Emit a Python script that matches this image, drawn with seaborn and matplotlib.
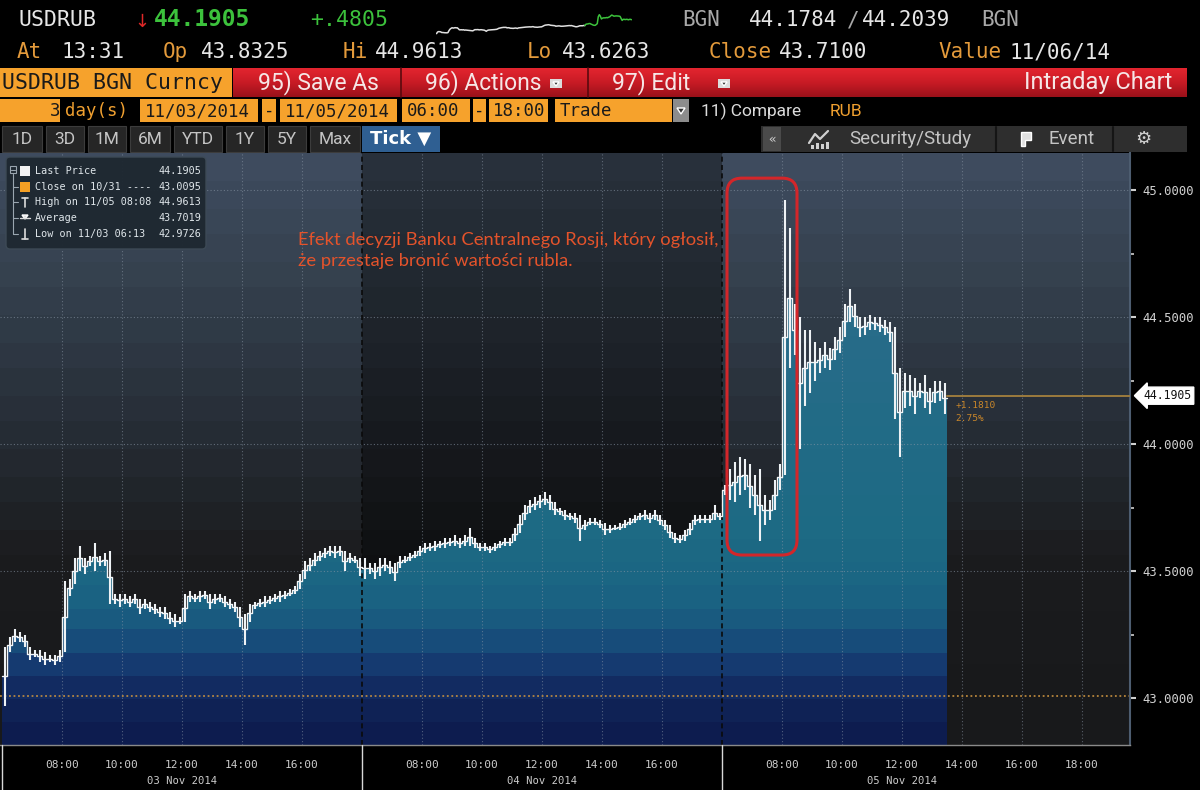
import numpy as np
import pandas as pd
import matplotlib
matplotlib.use("Agg")
import matplotlib.pyplot as plt
import matplotlib.transforms as mtransforms
from matplotlib.patches import Rectangle, FancyBboxPatch, Polygon
from matplotlib.colors import LinearSegmentedColormap
import seaborn as sns

# ---------------------------------------------------------------- data
days = ["03 Nov 2014", "04 Nov 2014", "05 Nov 2014"]
bar_minutes = 10          # one tick bar = 10 minutes
session_open = 6          # 06:00
session_len = 12          # 06:00 - 18:00

day1_low = [42.97, 43.18, 43.22, 43.22, 43.20, 43.15, 43.16, 43.14, 43.13, 43.14, 43.13, 43.14,
            43.18, 43.40, 43.45, 43.50, 43.49, 43.52, 43.50, 43.52, 43.52, 43.37, 43.37, 43.36,
            43.37, 43.36, 43.37, 43.33, 43.35, 43.34, 43.33, 43.32, 43.31, 43.29, 43.28, 43.29,
            43.30, 43.38, 43.38, 43.38, 43.39, 43.35, 43.37, 43.38, 43.36, 43.35, 43.34, 43.28,
            43.21, 43.30, 43.35, 43.36, 43.36, 43.37, 43.38, 43.38, 43.39, 43.40, 43.41, 43.43,
            43.47, 43.50, 43.52, 43.54, 43.55, 43.56, 43.55, 43.56, 43.50, 43.53, 43.53, 43.48]
day1_high = [43.20, 43.24, 43.27, 43.26, 43.25, 43.20, 43.19, 43.19, 43.18, 43.17, 43.17, 43.19,
             43.46, 43.47, 43.55, 43.60, 43.55, 43.56, 43.61, 43.56, 43.57, 43.58, 43.41, 43.41,
             43.41, 43.40, 43.41, 43.39, 43.39, 43.38, 43.37, 43.36, 43.36, 43.34, 43.33, 43.32,
             43.41, 43.42, 43.41, 43.42, 43.42, 43.41, 43.41, 43.41, 43.40, 43.39, 43.38, 43.36,
             43.33, 43.37, 43.38, 43.39, 43.40, 43.40, 43.41, 43.42, 43.42, 43.43, 43.44, 43.49,
             43.54, 43.55, 43.57, 43.58, 43.59, 43.60, 43.60, 43.60, 43.58, 43.57, 43.56, 43.55]

day2_low = [43.47, 43.49, 43.47, 43.48, 43.50, 43.49, 43.46, 43.51,
            43.53, 43.54, 43.55, 43.56, 43.57, 43.58, 43.58, 43.59, 43.59, 43.60, 43.60, 43.59,
            43.60, 43.60, 43.59, 43.58, 43.58, 43.57, 43.58, 43.59, 43.60, 43.60, 43.62, 43.65,
            43.70, 43.73, 43.74, 43.75, 43.76, 43.74, 43.72, 43.72, 43.70, 43.70, 43.69, 43.62,
            43.66, 43.68, 43.68, 43.67, 43.64, 43.65, 43.66, 43.66, 43.67, 43.68, 43.69, 43.70,
            43.70, 43.69, 43.70, 43.68, 43.66, 43.63, 43.61, 43.61, 43.62, 43.64, 43.68, 43.69,
            43.69, 43.69, 43.70, 43.70]
day2_high = [43.55, 43.53, 43.53, 43.55, 43.55, 43.54, 43.53, 43.56,
             43.56, 43.57, 43.58, 43.60, 43.61, 43.61, 43.62, 43.62, 43.63, 43.63, 43.64, 43.63,
             43.64, 43.67, 43.63, 43.61, 43.61, 43.60, 43.61, 43.62, 43.63, 43.63, 43.67, 43.72,
             43.76, 43.78, 43.79, 43.80, 43.81, 43.80, 43.77, 43.75, 43.74, 43.73, 43.73, 43.72,
             43.70, 43.71, 43.71, 43.70, 43.69, 43.68, 43.68, 43.69, 43.70, 43.71, 43.72, 43.73,
             43.74, 43.73, 43.74, 43.72, 43.70, 43.68, 43.65, 43.64, 43.66, 43.69, 43.72, 43.72,
             43.72, 43.72, 43.76, 43.73]

day3_low = [43.80, 43.78, 43.77, 43.80, 43.82, 43.75, 43.72, 43.62, 43.68, 43.70, 43.74, 43.82,
            43.88, 44.30, 44.35, 43.98, 44.15, 44.20, 44.25, 44.28, 44.30, 44.29, 44.33, 44.36,
            44.42, 44.48, 44.46, 44.42, 44.43, 44.45, 44.45, 44.44, 44.43, 44.40, 44.10, 43.95,
            44.14, 44.15, 44.12, 44.18, 44.14, 44.12, 44.16, 44.17, 44.12]
day3_high = [43.84, 43.90, 43.93, 43.95, 43.94, 43.92, 43.88, 43.90, 43.80, 43.78, 43.86, 43.92,
             44.96, 44.85, 44.55, 44.50, 44.45, 44.45, 44.40, 44.38, 44.40, 44.38, 44.42, 44.46,
             44.55, 44.61, 44.55, 44.50, 44.50, 44.51, 44.50, 44.50, 44.49, 44.48, 44.46, 44.30,
             44.28, 44.27, 44.26, 44.24, 44.27, 44.22, 44.25, 44.25, 44.24]

last_price = 44.1905
prev_close = 43.0095
y_ticks = [43.0, 43.5, 44.0, 44.5, 45.0]
hour_ticks = [8, 10, 12, 14, 16]
legend_labels = ["Last Price", "Close on 10/31 ----", "High on 11/05 08:08", "Average", "Low on 11/03 06:13"]
legend_values = ["44.1905", "43.0095", "44.9613", "43.7019", "42.9726"]
note = "Efekt decyzji Banku Centralnego Rosji, który ogłosił,\nże przestaje bronić wartości rubla."

# ---------------------------------------------------------------- frame
rows = []
for d, (lo, hi) in enumerate([(day1_low, day1_high), (day2_low, day2_high), (day3_low, day3_high)]):
    for i, (a, b) in enumerate(zip(lo, hi)):
        left = d * session_len + i * bar_minutes / 60
        rows.append(dict(day=d, left=left, center=left + bar_minutes / 120,
                         low=a, high=b, mid=(a + b) / 2))
df = pd.DataFrame(rows)
edges = np.append(df["left"].values, df["left"].values[-1] + bar_minutes / 60)
mids_e = np.append(df["mid"].values, df["mid"].values[-1])
x_end = edges[-1]

sns.set_theme(style="dark")
plt.rcParams["font.family"] = ["DejaVu Sans Mono"]
MONO = ["DejaVu Sans Mono"]
NARROW = ["Roboto", "DejaVu Sans"]

W, H = 1200, 790
fig = plt.figure(figsize=(12, 7.9), dpi=100, facecolor="black")

# header canvas in pixel coordinates
hdr = fig.add_axes([0, 0, 1, 1], zorder=0)
hdr.set_xlim(0, W); hdr.set_ylim(H, 0); hdr.axis("off")


def htxt(x, y, s, c, size, family=MONO, ha="left", weight="normal", ax=hdr, **kw):
    ax.text(x, y, s, color=c, fontsize=size, family=family, ha=ha, va="center",
            weight=weight, **kw)


def hrect(x0, y0, x1, y1, fc, ec="none", lw=0, ax=hdr, z=1):
    ax.add_patch(Rectangle((x0, y0), x1 - x0, y1 - y0, fc=fc, ec=ec, lw=lw, zorder=z))


WHITE = "#e6e6e6"; GREEN = "#3cc23c"; ORANGE = "#e39a3b"; GREY = "#a8a8a8"; BOX = "#f6a22c"

# row 1
htxt(19, 20, "USDRUB", WHITE, 15.5)
htxt(134, 22, "↓", "#e02828", 13, family=["DejaVu Sans"])
htxt(154, 20, "44.1905", GREEN, 16.5, weight="bold")
htxt(310, 20, "+.4805", GREEN, 15.5)
htxt(682, 20, "BGN", GREY, 15)
htxt(749, 20, "44.1784", WHITE, 15)
htxt(847, 20, "/", GREY, 15)
htxt(862, 20, "44.2039", WHITE, 15)
htxt(981, 20, "BGN", GREY, 15)
# row 2
for x, s, c in [(17, "At", ORANGE), (61, "13:31", WHITE), (163, "Op", ORANGE), (201, "43.8325", WHITE),
                (343, "Hi", ORANGE), (375, "44.9613", WHITE), (527, "Lo", ORANGE), (562, "43.6263", WHITE),
                (709, "Close", ORANGE), (779, "43.7100", WHITE), (938, "Value", ORANGE),
                (1010, "11/06/14", WHITE)]:
    htxt(x, 52, s, c, 15)

# sparkline (same series, compressed)
sp = fig.add_axes([436 / W, 1 - 36 / H, 196 / W, 28 / H], zorder=1)
sp.axis("off")
pre = df[df["day"] < 2]; post = df[df["day"] == 2]
sp.plot(pre["center"], pre["mid"], color="#e0e0e0", lw=1.1)
sp.plot(np.r_[pre["center"].values[-1:], post["center"].values],
        np.r_[pre["mid"].values[-1:], post["mid"].values], color=GREEN, lw=1.1)
sp.set_xlim(0, x_end); sp.set_ylim(42.9, 45.1)

# row 3
hrect(0, 68, 232, 97, BOX)
htxt(2, 83, "USDRUB BGN Curncy", "#1a1a1a", 15.5)
red = LinearSegmentedColormap.from_list("red", ["#e3252f", "#c81b25", "#9a111a"])
hdr.imshow(np.linspace(0, 1, 64).reshape(-1, 1), cmap=red, extent=(233, 1187, 97, 68),
           aspect="auto", origin="upper", zorder=1)
for xs in (401, 588):
    hdr.plot([xs, xs], [68, 97], color="#5a0a0e", lw=1.2, zorder=2)
RT = "#f6e6e6"
for x, s in [(258, "95) Save As"), (425, "96) Actions"), (612, "97) Edit")]:
    hdr.text(x, 83, s, color=RT, fontsize=16.5, family=NARROW, va="center", ha="left", zorder=3)
hdr.text(1172, 83, "Intraday Chart", color=RT, fontsize=17, family=NARROW, va="center",
         ha="right", zorder=3)
for x0 in (550, 718):
    hrect(x0, 79, x0 + 12, 88, "#dcdcdc", z=3)
    hdr.add_patch(Polygon([[x0 + 3, 82], [x0 + 9, 82], [x0 + 6, 86]], closed=True,
                          fc="#333333", zorder=4))

# row 4
for x0, x1 in [(0, 60), (140, 258), (262, 276), (280, 397), (402, 470), (473, 486),
               (489, 548), (555, 672)]:
    hrect(x0, 99, x1, 122, BOX)
hrect(673, 99, 689, 122, "#8c8c8c")
hdr.add_patch(Polygon([[677, 108], [685, 108], [681, 114]], closed=True, fc="#333333", zorder=3))
for x, s in [(54, "3"), (145, "11/03/2014"), (269, "-"), (285, "11/05/2014"), (407, "06:00"),
             (479, "-"), (493, "18:00"), (560, "Trade")]:
    ha = "right" if s == "3" else ("center" if s == "-" else "left")
    htxt(x + (6 if s == "3" else 0), 111, s, "#1a1a1a", 12.5, ha=ha, zorder=3)
htxt(65, 111, "day(s)", "#f0a030", 12.5)
hdr.text(701, 111, "11) Compare", color="#dcdcdc", fontsize=12.5, family=NARROW, va="center")
hdr.text(830, 111, "RUB", color="#f0a030", fontsize=12.5, family=NARROW, va="center")

# row 5
for s, x0, x1 in [("1D", 2, 42), ("3D", 46, 84), ("1M", 88, 126), ("6M", 130, 170), ("YTD", 174, 222),
                  ("1Y", 226, 264), ("5Y", 268, 306), ("Max", 310, 360)]:
    hrect(x0, 126, x1, 152, "#262626", ec="#3c3c3c", lw=0.8)
    hdr.text((x0 + x1) / 2, 139, s, color="#c4c4c4", fontsize=12.5, family=NARROW,
             ha="center", va="center", zorder=3)
hrect(362, 126, 440, 152, "#2f5f92")
hdr.text(370, 139, "Tick ▼", color="white", fontsize=13, family=["DejaVu Sans"], va="center",
         zorder=3, weight="bold")
hrect(761, 126, 1187, 152, "#2e2e2e")
hrect(763, 127, 781, 151, "#4a4a4a", z=2)
hdr.text(772, 139, "«", color="#d0d0d0", fontsize=9, ha="center", va="center", zorder=3)
hdr.plot([809, 815, 820, 828], [143, 134, 139, 131], color="#d0d0d0", lw=1.6, zorder=3)
for bx, bh in [(811, 4), (816, 6), (821, 5), (826, 7)]:
    hrect(bx, 149 - bh, bx + 3, 149, "#d0d0d0", z=3)
hdr.text(849, 139, "Security/Study", color="#c4c4c4", fontsize=13.5, family=NARROW, va="center", zorder=3)
for xs in (996, 1113):
    hdr.plot([xs, xs], [127, 151], color="#151515", lw=1.5, zorder=3)
hdr.add_patch(Polygon([[1021, 132], [1031, 132], [1031, 140], [1025, 140], [1025, 146], [1021, 146]],
                      closed=True, fc="#e0e0e0", zorder=3))
hdr.text(1048, 139, "Event", color="#c4c4c4", fontsize=13.5, family=NARROW, va="center", zorder=3)
hdr.text(1143, 139, "⚙", color="#d0d0d0", fontsize=13, family=["DejaVu Sans"], ha="center",
         va="center", zorder=3)

# ---------------------------------------------------------------- main chart
top_px, bot_px, right_px = 153, 745, 1130
ax = fig.add_axes([0, (H - bot_px) / H, right_px / W, (bot_px - top_px) / H], zorder=2)
ax.set_facecolor("#18191b")
y_lo, y_hi = 42.815, 45.146
x_lo, x_hi = -0.067, 37.6

bgA = LinearSegmentedColormap.from_list("bgA", [(0.0, "#18191b"), (0.31, "#1b1c1e"), (0.42, "#20252a"),
                                                (0.55, "#272e37"), (0.68, "#2e3844"), (0.82, "#36424f"),
                                                (1.0, "#3e4b5e")], N=22)
bgB = LinearSegmentedColormap.from_list("bgB", [(0.0, "#0d0e10"), (0.31, "#0f1012"), (0.42, "#131518"),
                                                (0.55, "#181b20"), (0.68, "#1d2229"), (0.82, "#222931"),
                                                (1.0, "#28303b")], N=22)
fillC = LinearSegmentedColormap.from_list("fillC", [(0.0, "#0d1c4f"), (0.06, "#102559"), (0.10, "#143169"),
                                                    (0.14, "#174577"), (0.19, "#19587f"), (0.25, "#1b6583"),
                                                    (0.35, "#1d6a84"), (0.5, "#216b86"), (0.7, "#276c89"),
                                                    (1.0, "#306e8c")], N=26)
grad = np.linspace(0, 1, 256).reshape(-1, 1)
ax.imshow(grad, cmap=bgA, origin="lower", extent=(x_lo, x_hi, y_lo, y_hi), aspect="auto",
          zorder=0, interpolation="nearest")
ax.imshow(grad, cmap=bgB, origin="lower", extent=(session_len, 2 * session_len, y_lo, y_hi),
          aspect="auto", zorder=0.5, interpolation="nearest")

poly = ax.fill_between(edges, mids_e, y_lo, step="post", color="none", lw=0, zorder=1)
im = ax.imshow(grad, cmap=fillC, origin="lower", extent=(x_lo, x_hi, y_lo, y_hi), aspect="auto",
               zorder=1.5, interpolation="nearest")
im.set_clip_path(poly.get_paths()[0], transform=ax.transData)

# grid
gx = []
for d in range(3):
    gx += [d * session_len + h - session_open for h in hour_ticks]
gx.append(2 * session_len + 18 - session_open)
for x in gx:
    ax.axvline(x, color="#8a97a6", lw=0.8, ls=(0, (1, 2)), alpha=0.55, zorder=2)
for y in y_ticks[1:]:
    ax.axhline(y, color="#8a97a6", lw=0.8, ls=(0, (1, 2)), alpha=0.6, zorder=2)
ax.axhline(prev_close, color="#c8913f", lw=1.3, ls=(0, (1, 1.5)), alpha=0.9, zorder=2)
for d in (1, 2):
    ax.axvline(d * session_len, color="#0a0a0a", lw=1.2, ls=(0, (3, 2)), zorder=2.5)

# price bars + step line
ax.vlines(df["center"], df["low"], df["high"], color="#eef2f5", lw=1.5, zorder=4)
step_df = pd.DataFrame({"x": edges, "y": mids_e})
sns.lineplot(data=step_df, x="x", y="y", ax=ax, color="#f2f5f7", lw=1.0, drawstyle="steps-post",
             sort=False, estimator=None, zorder=4)

# last price line and change
ax.plot([x_end, x_hi], [last_price, last_price], color="#9c7b3e", lw=1.4, zorder=3)
ax.annotate("+1.1810\n2.75%", xy=(x_end, last_price), xytext=(6, -4), textcoords="offset points",
            ha="left", va="top", color="#c8862a", fontsize=6.8, family=MONO, linespacing=1.5, zorder=5)

# annotation box
xpx = ax.get_position().width * W / (x_hi - x_lo)
ypx = ax.get_position().height * H / (y_hi - y_lo)
bx0 = 2 * session_len + 10 / 60
bx1 = 2 * session_len + 2.5
ax.add_patch(FancyBboxPatch((bx0, 43.563), bx1 - bx0, 45.047 - 43.563,
                            boxstyle="round,pad=0,rounding_size=0.5", mutation_aspect=xpx / ypx,
                            fc="none", ec="#d3262a", lw=2.2, zorder=6))
ax.text(9.87, 44.762, note, color="#e4532b", fontsize=13.2, family=["Lato", "DejaVu Sans"],
        va="center", ha="left", linespacing=1.4, zorder=6)

# axes formatting
ax.set_xlabel(""); ax.set_ylabel("")
ax.yaxis.tick_right()
ax.set_yticks(y_ticks)
ax.set_yticklabels([f"{v:.4f}" for v in y_ticks])
ax.set_yticks([v + 0.25 for v in y_ticks[:-1]], minor=True)
ax.set_xticks(gx)
ax.set_xticklabels([f"{(x - session_len * (x // session_len if x < 36 else 2)) + session_open:02.0f}:00"
                    for x in gx])
ax.set_xticks([d * session_len + h for d in range(3) for h in range(1, 12)] + [37], minor=True)
ax.set_xlim(x_lo, x_hi); ax.set_ylim(y_lo, y_hi)
ax.tick_params(axis="y", which="major", colors="#d0d0d0", labelsize=8.8, length=4, width=1.5, pad=5,
               labelfontfamily="DejaVu Sans Mono")
ax.tick_params(axis="y", which="minor", color="#d0d0d0", length=3, width=1.2)
ax.tick_params(axis="x", which="major", colors="#cccccc", labelsize=8, length=4, width=1, pad=7,
               labelfontfamily="DejaVu Sans Mono")
ax.tick_params(axis="x", which="minor", color="#9a9a9a", length=3, width=0.8)
for s in ("top", "left"):
    ax.spines[s].set_visible(False)
ax.spines["right"].set_color("#4d5d70"); ax.spines["right"].set_linewidth(1.5)
ax.spines["bottom"].set_color("#8a8a8a"); ax.spines["bottom"].set_linewidth(1.0)
ax.grid(False)

blend = mtransforms.blended_transform_factory(ax.transData, ax.transAxes)
axpx = bot_px - top_px
for d in range(3):
    ax.plot([d * session_len] * 2, [0, -45 / axpx], transform=blend, clip_on=False,
            color="#d8d8d8", lw=1.0, zorder=6)
    ax.text(d * session_len + 6, -36 / axpx, days[d], transform=blend, ha="center", va="center",
            color="#cccccc", fontsize=7.6, family=MONO)

blend_y = mtransforms.blended_transform_factory(ax.transAxes, ax.transData)
ax.text(1.012, last_price, f"{last_price:.4f}", transform=blend_y, ha="left", va="center",
        color="#111111", fontsize=8.3, family=MONO, clip_on=False, zorder=7,
        bbox=dict(boxstyle="larrow,pad=0.18", fc="white", ec="white"))

# ---------------------------------------------------------------- legend box (overlay)
ov = fig.add_axes([0, 0, 1, 1], zorder=5)
ov.set_xlim(0, W); ov.set_ylim(H, 0); ov.axis("off")
ov.add_patch(FancyBboxPatch((6, 157), 200, 92, boxstyle="round,pad=0,rounding_size=4",
                            fc="#1e2831", ec="#3d4a56", lw=1.0, alpha=0.96))
ry = [171, 187, 202, 218, 234]
ov.plot([13, 13], [174, 234], color="#9aa6b0", lw=0.8)
ov.add_patch(Rectangle((10, 166), 6, 7, fc="#1e2831", ec="#9aa6b0", lw=0.8))
ov.plot([11, 15], [169.5, 169.5], color="#9aa6b0", lw=0.8)
for y in ry[1:]:
    ov.plot([13, 18], [y, y], color="#9aa6b0", lw=0.8)
ov.add_patch(Rectangle((20, 166), 10, 10, fc="#f2f2f2", ec="none"))
ov.add_patch(Rectangle((20, 182), 10, 10, fc="#f5a024", ec="none"))
ov.plot([22, 28], [198, 198], color="#dcdcdc", lw=1.2); ov.plot([25, 25], [198, 207], color="#dcdcdc", lw=1.2)
ov.plot([20, 30], [218, 218], color="#dcdcdc", lw=1.0)
ov.add_patch(Polygon([[22, 215], [28, 215], [25, 219]], closed=True, fc="#dcdcdc"))
ov.plot([22, 28], [239, 239], color="#dcdcdc", lw=1.2); ov.plot([25, 25], [229, 239], color="#dcdcdc", lw=1.2)
for y, lab, val in zip(ry, legend_labels, legend_values):
    ov.text(35, y, lab, color="#dfe6ea", fontsize=7.3, family=MONO, va="center", ha="left")
    ov.text(201, y, val, color="#dfe6ea", fontsize=7.3, family=MONO, va="center", ha="right")

fig.savefig("out.png", dpi=100, facecolor="black")
